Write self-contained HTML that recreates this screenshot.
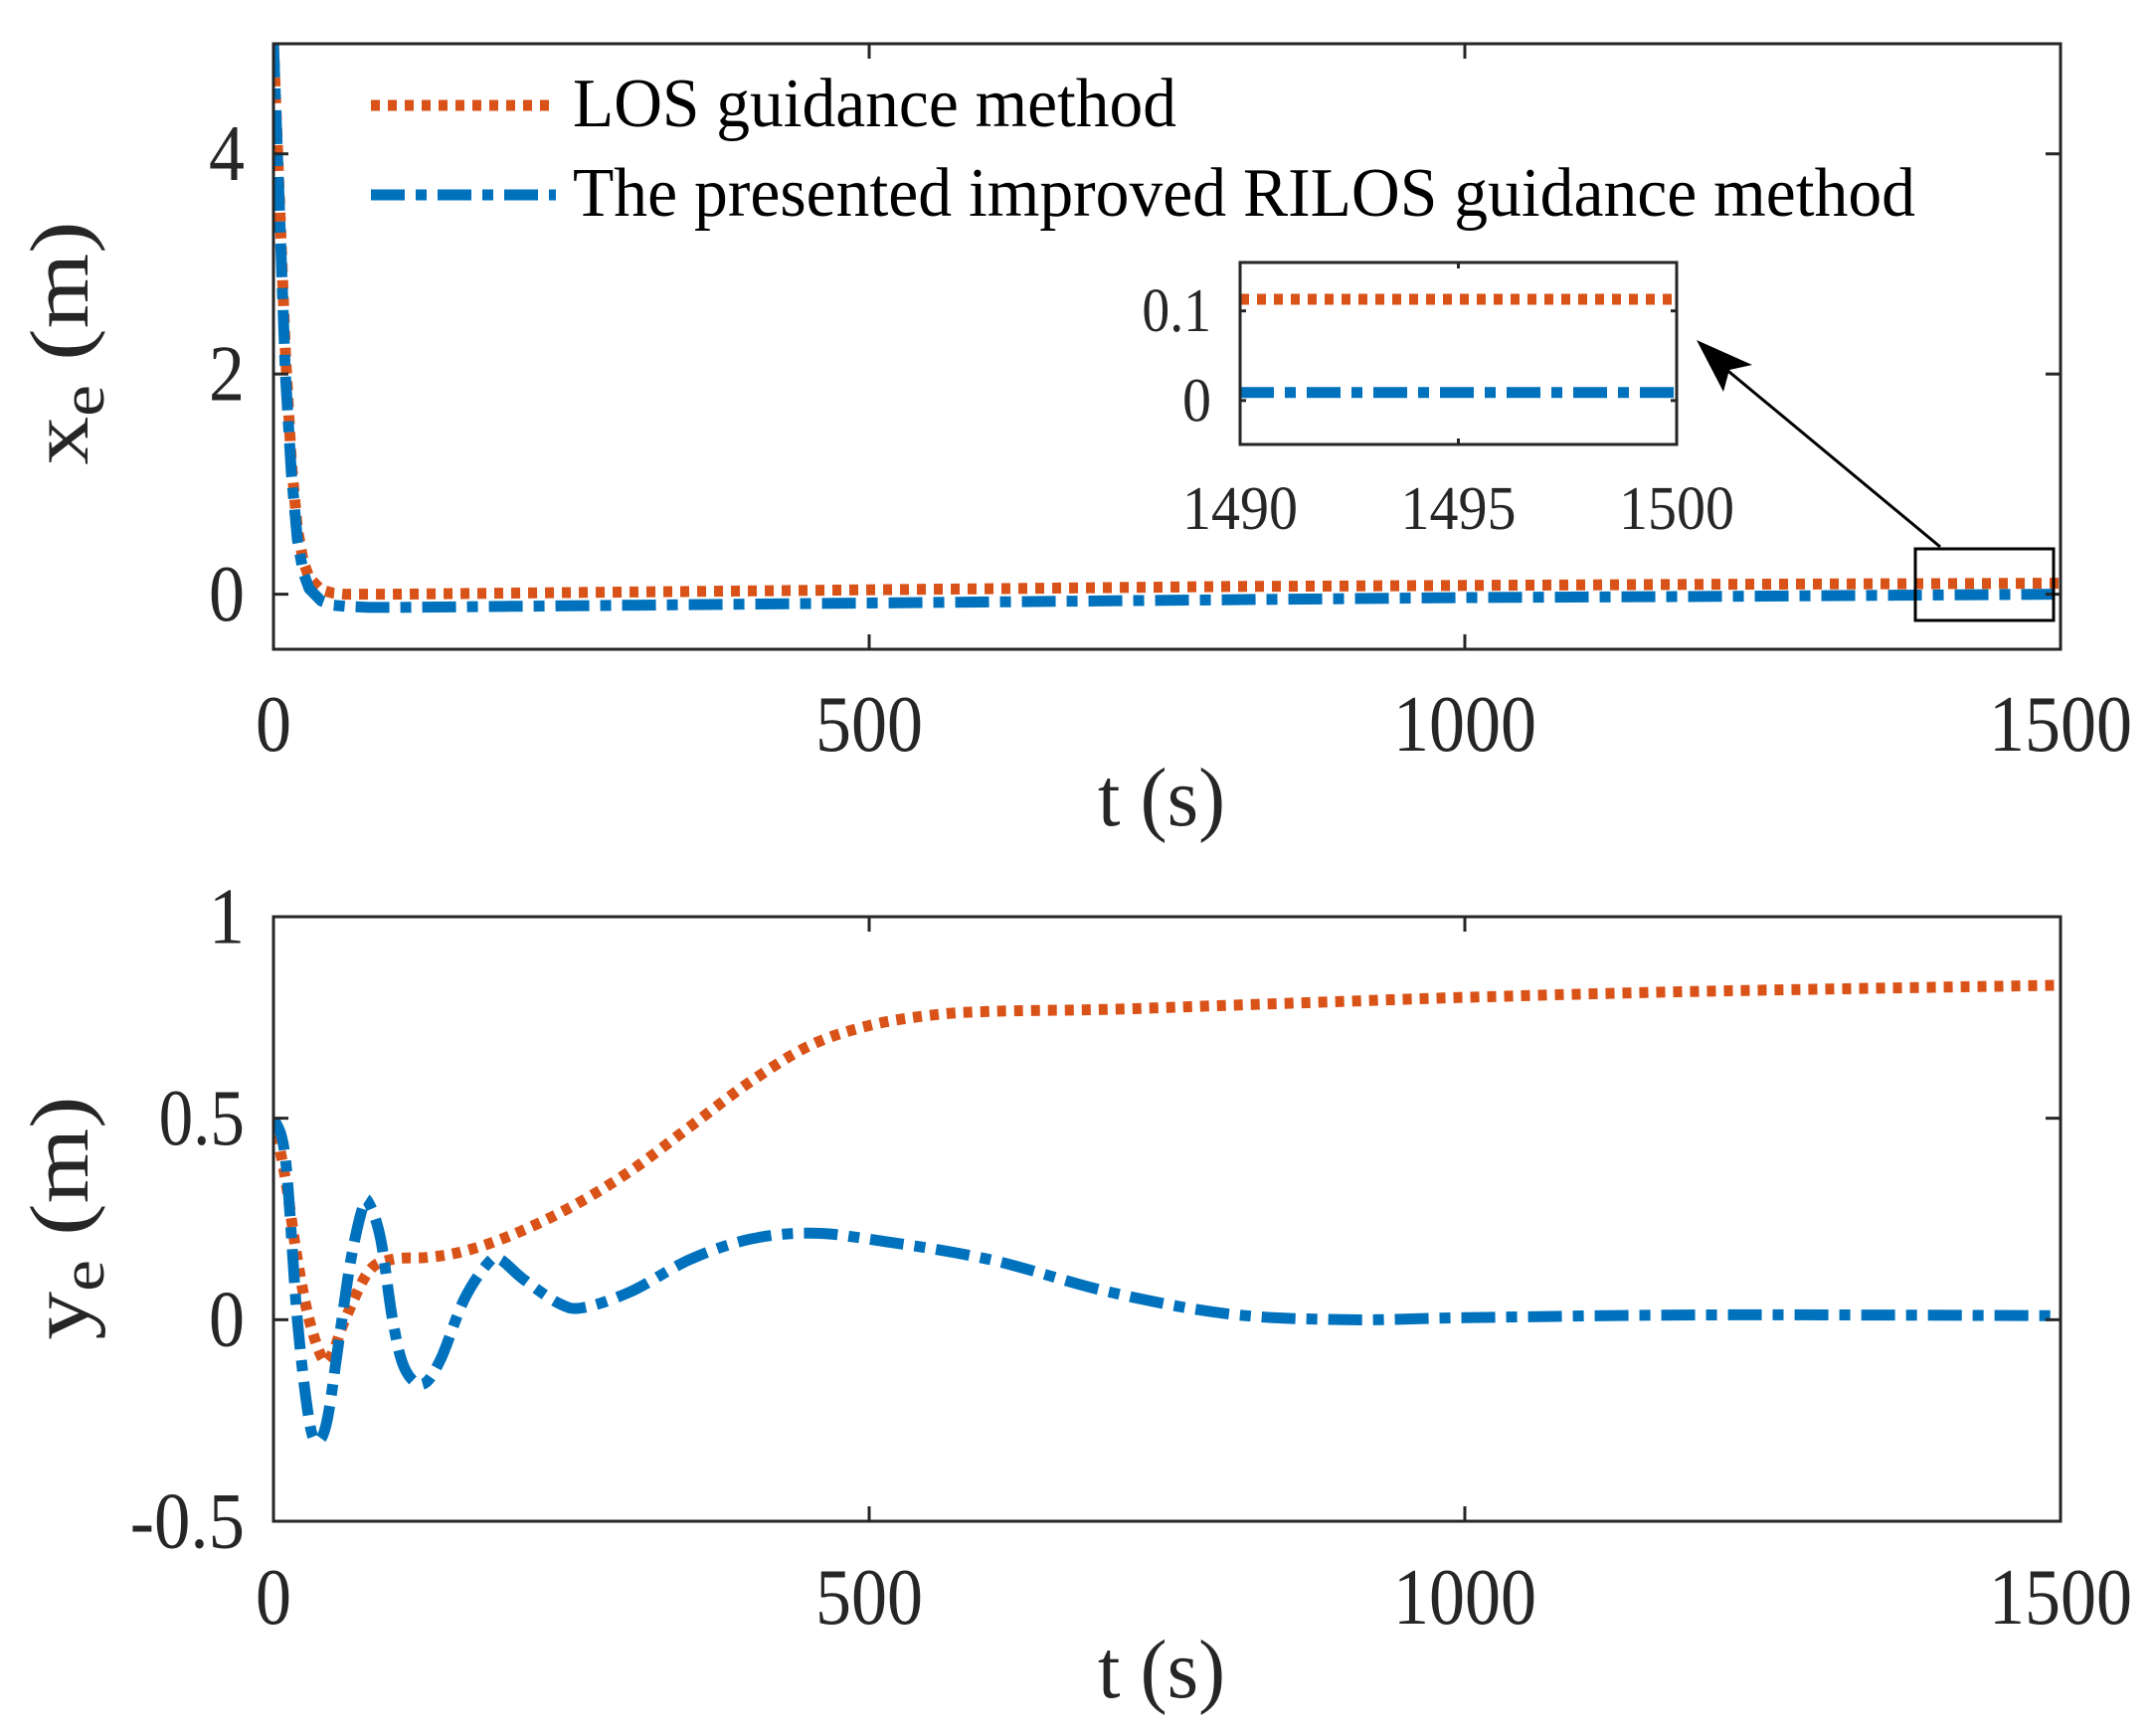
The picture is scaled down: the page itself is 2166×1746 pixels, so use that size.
<!DOCTYPE html>
<html><head><meta charset="utf-8">
<style>
html,body{margin:0;padding:0;background:#fff;}
svg{display:block;font-family:"Liberation Serif",serif;}
</style></head>
<body>
<svg id="fig" width="2166" height="1746" viewBox="0 0 2166 1746"></svg>
<script>
// ---- data ----
const topT = [0,5,10,15,20,25,30,40,50,60,80,100,200,400,600,800,1000,1200,1500];
const topLOS = [5,3.6,2.2,1.2,0.6,0.3,0.15,0.04,0.01,0,0,0,0.01,0.03,0.05,0.07,0.08,0.09,0.1];
const topRILOS = [5,3.5,2.0,1.1,0.5,0.2,0.05,-0.06,-0.1,-0.11,-0.12,-0.12,-0.11,-0.09,-0.07,-0.05,-0.03,-0.02,0];
const botLosT = [0,10,20,30,42,50,60,80,100,130,160,200,250,300,350,400,450,500,550,600,700,800,900,1000,1200,1500];
const botLOS = [0.5,0.35,0.15,0.0,-0.1,-0.08,0.0,0.12,0.15,0.155,0.17,0.21,0.28,0.37,0.48,0.59,0.68,0.73,0.755,0.765,0.77,0.78,0.79,0.8,0.815,0.83];
const botRilT = [0,10,20,30,37,45,55,65,75,80,90,100,110,125,140,160,180,190,210,240,260,300,350,400,450,500,600,700,800,900,1000,1200,1500];
const botRILOS = [0.5,0.4,0.0,-0.25,-0.3,-0.25,-0.05,0.15,0.28,0.29,0.2,0.0,-0.12,-0.16,-0.1,0.05,0.14,0.15,0.1,0.04,0.03,0.07,0.15,0.2,0.215,0.2,0.15,0.07,0.015,0.0,0.005,0.012,0.01];
const xTicks = [0,500,1000,1500];
const topYTicks = [0,2,4];
const botYTicks = [-0.5,0,0.5,1];
const botYLabels = ["-0.5","0","0.5","1"];
const insetT = [1490,1500];
const insetLOS = [0.113,0.113];
const insetRILOS = [0.009,0.009];
const insetXTicks = [1490,1495,1500];
const insetYTicks = [0,0.1];
const insetYLabels = ["0","0.1"];

const NS="http://www.w3.org/2000/svg";
const svg=document.getElementById('fig');
function mk(tag,attrs,parent){const e=document.createElementNS(NS,tag);for(const k in attrs)e.setAttribute(k,attrs[k]);(parent||svg).appendChild(e);return e;}
const ORANGE="#D95319", BLUE="#0072BD", AX="#262626";
const DOT="9 8", DASHDOT="34 11 11 11";

function axes(x0,x1,y0,y1,xmin,xmax,ymin,ymax){
  const sx=v=>x0+(v-xmin)/(xmax-xmin)*(x1-x0);
  const sy=v=>y1-(v-ymin)/(ymax-ymin)*(y1-y0);
  return {sx,sy,x0,x1,y0,y1};
}
function lbl(g,x,y,s,fs,anchor,cw,name){
  const t=mk('text',{x:x,y:y,'font-size':fs,'text-anchor':anchor,fill:AX,textLength:s.length*cw,lengthAdjust:'spacingAndGlyphs'},g);
  t.textContent=s;
  
  
}
function frame(a,name,xt,xl,yt,yl,fs,cw,tick,xlabY,ylabX){
  const g=mk('g',{});
  
  
  const r=mk('rect',{x:a.x0,y:a.y0,width:a.x1-a.x0,height:a.y1-a.y0,fill:'none',stroke:AX,'stroke-width':3},g);
  
  
  xt.forEach((v,i)=>{
    const x=a.sx(v);
    mk('line',{x1:x,x2:x,y1:a.y1,y2:a.y1-tick,stroke:AX,'stroke-width':3},g);
    mk('line',{x1:x,x2:x,y1:a.y0,y2:a.y0+tick,stroke:AX,'stroke-width':3},g);
    lbl(g,x,xlabY,xl[i],fs,'middle',cw,name+'-x-tick-label');
  });
  yt.forEach((v,i)=>{
    const y=a.sy(v);
    mk('line',{x1:a.x0,x2:a.x0+tick,y1:y,y2:y,stroke:AX,'stroke-width':3},g);
    mk('line',{x1:a.x1,x2:a.x1-tick,y1:y,y2:y,stroke:AX,'stroke-width':3},g);
    lbl(g,ylabX,y+fs*0.33,yl[i],fs,'end',cw*(yl[i].includes('.')?0.8:1),name+'-y-tick-label');
  });
}
function series(a,T,V,color,dash,name,clip,smooth){
  const P=T.map((t,i)=>[a.sx(t),a.sy(V[i])]);
  let d='M'+P[0][0].toFixed(1)+','+P[0][1].toFixed(1);
  for(let i=1;i<P.length;i++){
    if(!smooth){d+=' L'+P[i][0].toFixed(1)+','+P[i][1].toFixed(1);continue;}
    const p0=P[Math.max(0,i-2)],p1=P[i-1],p2=P[i],p3=P[Math.min(P.length-1,i+1)];
    const c1=[p1[0]+(p2[0]-p0[0])/6,p1[1]+(p2[1]-p0[1])/6];
    const c2=[p2[0]-(p3[0]-p1[0])/6,p2[1]-(p3[1]-p1[1])/6];
    d+=' C'+c1.map(v=>v.toFixed(1)).join(',')+' '+c2.map(v=>v.toFixed(1)).join(',')+' '+p2[0].toFixed(1)+','+p2[1].toFixed(1);
  }
  const p=mk('path',{d:d,fill:'none',stroke:color,'stroke-width':11,'stroke-dasharray':dash,'stroke-linejoin':'round'});
  if(clip)p.setAttribute('clip-path','url(#'+clip+')');
  
  
}
const defs=mk('defs',{});
function clipRect(id,a){const c=mk('clipPath',{id:id},defs);mk('rect',{x:a.x0,y:a.y0,width:a.x1-a.x0,height:a.y1-a.y0},c);}
function axTitle(x,y,html,name,rot,len){
  const t=mk('text',{'font-size':84,'text-anchor':'middle',fill:AX,textLength:len,lengthAdjust:'spacingAndGlyphs'});
  if(rot)t.setAttribute('transform','translate('+x+','+y+') rotate(-90)');else{t.setAttribute('x',x);t.setAttribute('y',y);}
  t.innerHTML=html;
  
  
}

// ---- top plot ----
const A=axes(275,2072,44,653,0,1500,-0.5,5);
clipRect('cA',A);
series(A,topT,topLOS,ORANGE,DOT,'top-los-line','cA',false);
series(A,topT,topRILOS,BLUE,DASHDOT,'top-rilos-line','cA',false);
frame(A,'top',xTicks,xTicks.map(String),topYTicks,topYTicks.map(String),80,36,15,755,246);
axTitle(1168,830,'t (s)','top-x-axis-title',false,128);
axTitle(88,345,'x<tspan font-size="62" dy="16">e</tspan><tspan dy="-16"> (m)</tspan>','top-y-axis-title',true,245);

// legend
const lg=mk('g',{});


mk('line',{x1:373,x2:559,y1:106,y2:106,stroke:ORANGE,'stroke-width':11,'stroke-dasharray':DOT},lg);
mk('line',{x1:373,x2:559,y1:196,y2:196,stroke:BLUE,'stroke-width':11,'stroke-dasharray':DASHDOT},lg);
let t=mk('text',{x:576,y:127,'font-size':70,fill:'#000',textLength:607,lengthAdjust:'spacingAndGlyphs'},lg);
t.textContent='LOS guidance method';


t=mk('text',{x:576,y:217,'font-size':70,fill:'#000',textLength:1350,lengthAdjust:'spacingAndGlyphs'},lg);
t.textContent='The presented improved RILOS guidance method';



// zoom rect and arrow
let zr=mk('rect',{x:1926,y:552,width:139,height:72,fill:'none',stroke:'#000','stroke-width':3});


let ar=mk('line',{x1:1951,y1:550,x2:1722,y2:360,stroke:'#000','stroke-width':3});


let ah=mk('polygon',{points:'1706,342 1762,367 1739,372 1733,394',fill:'#000'});



// inset
const I=axes(1247,1686,264,447,1490,1500,-0.049,0.154);
mk('rect',{x:I.x0,y:I.y0,width:I.x1-I.x0,height:I.y1-I.y0,fill:'#fff'});
clipRect('cI',I);
series(I,insetT,insetLOS,ORANGE,DOT,'inset-los-line','cI',false);
series(I,insetT,insetRILOS,BLUE,DASHDOT,'inset-rilos-line','cI',false);
frame(I,'inset',insetXTicks,insetXTicks.map(String),insetYTicks,insetYLabels,62,29,6,532,1218);

// ---- bottom plot ----
const B=axes(275,2072,922,1530,0,1500,-0.5,1);
clipRect('cB',B);
series(B,botLosT,botLOS,ORANGE,DOT,'bottom-los-line','cB',true);
series(B,botRilT,botRILOS,BLUE,DASHDOT,'bottom-rilos-line','cB',true);
frame(B,'bottom',xTicks,xTicks.map(String),botYTicks,botYLabels,80,36,15,1633,246);
axTitle(1168,1707,'t (s)','bottom-x-axis-title',false,128);
axTitle(88,1225,'y<tspan font-size="62" dy="16">e</tspan><tspan dy="-16"> (m)</tspan>','bottom-y-axis-title',true,245);
</script>
</body></html>
